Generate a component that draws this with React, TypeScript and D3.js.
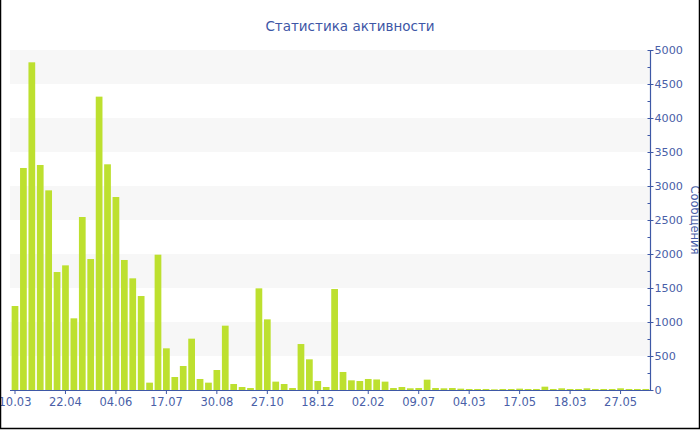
import React, { useEffect, useRef } from "react";
import * as d3 from "d3";

const title = "Статистика активности";
const yTitle = "Сообщения";

const values: number[] = [
  1235, 3265, 4819, 3309, 2936, 1735, 1833, 1054, 2544, 1926,
  4314, 3319, 2838, 1912, 1642, 1382, 108, 1990, 613, 191,
  353, 755, 162, 108, 294, 946, 88, 44, 29, 1495,
  1039, 123, 88, 29, 676, 451, 132, 44, 1485, 265,
  142, 132, 162, 155, 123, 29, 44, 25, 29, 152,
  29, 25, 29, 20, 15, 15, 15, 10, 15, 15,
  20, 15, 15, 49, 15, 25, 15, 15, 25, 15,
  15, 15, 25, 15, 15, 15,
];

const tickLabels: string[] = [
  "10.03", "22.04", "04.06", "17.07", "30.08", "27.10", "18.12",
  "02.02", "09.07", "04.03", "17.05", "18.03", "27.05",
];
const labelEvery = 6;

const yMax = 5000;
const yMajor = d3.range(0, yMax + 1, 500);
const yMinor = d3.range(250, yMax, 500);

const W = 700;
const H = 430;
const M = { left: 10.8, right: 50, top: 50, bottom: 40 };

export default function App() {
  const ref = useRef<SVGSVGElement>(null);

  useEffect(() => {
    document.body.style.margin = "0";
    const svg = d3.select(ref.current);
    svg.selectAll("*").remove();

    const axisColor = "#3e58a6";
    const textColor = "#4a5fa8";
    const font = "Verdana, 'DejaVu Sans', sans-serif";

    const x = d3
      .scaleBand<number>()
      .domain(d3.range(values.length))
      .range([M.left, W - M.right])
      .paddingInner(0.2)
      .paddingOuter(0.1);
    const y = d3.scaleLinear().domain([0, yMax]).range([H - M.bottom, M.top]);

    svg.append("rect").attr("width", W).attr("height", H).attr("fill", "#fff");

    // alternating bands
    const bands = d3.range(500, yMax, 1000);
    svg
      .append("g")
      .selectAll("rect")
      .data(bands)
      .join("rect")
      .attr("x", M.left - 0.8)
      .attr("width", W - M.right - M.left + 0.8)
      .attr("y", (d) => y(d + 500))
      .attr("height", (d) => y(d) - y(d + 500))
      .attr("fill", "#f7f7f7");

    // bars
    svg
      .append("g")
      .selectAll("rect")
      .data(values)
      .join("rect")
      .attr("x", (_, i) => x(i)!)
      .attr("width", x.bandwidth())
      .attr("y", (d) => y(d))
      .attr("height", (d) => y(0) - y(d))
      .attr("fill", "#bde02f");

    // x axis
    const xa = svg.append("g");
    xa.append("line")
      .attr("x1", M.left - 0.8)
      .attr("x2", W - M.right)
      .attr("y1", y(0) + 0.5)
      .attr("y2", y(0) + 0.5)
      .attr("stroke", axisColor)
      .attr("stroke-width", 1.2);
    tickLabels.forEach((lab, k) => {
      const i = k * labelEvery;
      const cx = x(i)! + x.bandwidth() / 2;
      xa.append("line")
        .attr("x1", cx)
        .attr("x2", cx)
        .attr("y1", y(0))
        .attr("y2", y(0) + 4)
        .attr("stroke", axisColor);
      xa.append("text")
        .attr("x", cx)
        .attr("y", y(0) + 15.5)
        .attr("text-anchor", "middle")
        .attr("fill", textColor)
        .attr("font-family", font)
        .attr("font-size", 11.5)
        .text(lab);
    });

    // y axis (right)
    const ax = W - M.right + 0.5;
    const ya = svg.append("g");
    ya.append("line")
      .attr("x1", ax)
      .attr("x2", ax)
      .attr("y1", y(yMax))
      .attr("y2", y(0) + 1)
      .attr("stroke", axisColor)
      .attr("stroke-width", 1.2);
    yMinor.forEach((v) => {
      ya.append("line")
        .attr("x1", ax - 3)
        .attr("x2", ax)
        .attr("y1", Math.round(y(v)) + 0.5)
        .attr("y2", Math.round(y(v)) + 0.5)
        .attr("stroke", axisColor);
    });
    yMajor.forEach((v) => {
      ya.append("line")
        .attr("x1", ax - 3)
        .attr("x2", ax + 3)
        .attr("y1", Math.round(y(v)) + 0.5)
        .attr("y2", Math.round(y(v)) + 0.5)
        .attr("stroke", axisColor);
      ya.append("text")
        .attr("x", ax + 4)
        .attr("y", y(v) + 4)
        .attr("fill", textColor)
        .attr("font-family", font)
        .attr("font-size", 11.2)
        .text(String(v));
    });

    svg
      .append("text")
      .attr("transform", `translate(691, ${(y(0) + y(yMax)) / 2}) rotate(90)`)
      .attr("text-anchor", "middle")
      .attr("fill", textColor)
      .attr("font-family", font)
      .attr("font-size", 11.5)
      .text(yTitle);

    svg
      .append("text")
      .attr("x", W / 2)
      .attr("y", 31)
      .attr("text-anchor", "middle")
      .attr("fill", "#3d56a6")
      .attr("font-family", font)
      .attr("font-size", 13.5)
      .text(title);

    // frame (left, bottom, right)
    svg
      .append("path")
      .attr("d", `M0.5,0 V${H - 1.5} H${W - 0.5} V0`)
      .attr("fill", "none")
      .attr("stroke", "#000")
      .attr("stroke-width", 1.5);
  }, []);

  return (
    <svg
      ref={ref}
      width={W}
      height={H}
      style={{ display: "block", position: "absolute", left: 0, top: 0 }}
    />
  );
}
